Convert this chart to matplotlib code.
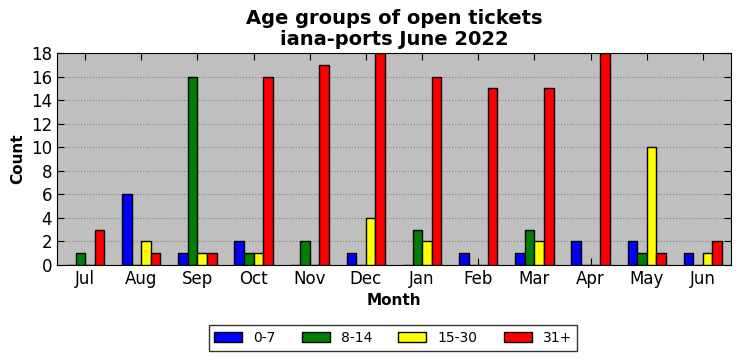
import matplotlib
matplotlib.use("Agg")
import matplotlib.pyplot as plt
import numpy as np

months = ['Jul', 'Aug', 'Sep', 'Oct', 'Nov', 'Dec', 'Jan', 'Feb', 'Mar', 'Apr', 'May', 'Jun']
age_labels = ['0-7', '8-14', '15-30', '31+']
age_colors = ['blue', 'green', 'yellow', 'red']
g0_7 = [0, 6, 1, 2, 0, 1, 0, 1, 1, 2, 2, 1]
g8_14 = [1, 0, 16, 1, 2, 0, 3, 0, 3, 0, 1, 0]
g15_30 = [0, 2, 1, 1, 0, 4, 2, 0, 2, 0, 10, 1]
g31 = [3, 1, 1, 16, 17, 18, 16, 15, 15, 18, 1, 2]

series = [g0_7, g8_14, g15_30, g31]

fig = plt.figure(figsize=(7.41, 3.61), dpi=100)
ax = fig.add_axes([57/741, 1-265/361, (731-57)/741, (265-53)/361])
ax.set_facecolor('#bfbfbf')

x = np.arange(len(months))
w = 0.17
for i in range(4):
  ax.bar(x + (i-1.5)*w, series[i], w, color=age_colors[i], edgecolor='black',
         linewidth=1, label=age_labels[i], zorder=3)

ax.set_xlim(-0.5, 11.5)
ax.set_ylim(0, 18)
ax.set_yticks(range(0, 19, 2))
ax.set_xticks(x)
ax.set_xticklabels(months)
ax.tick_params(direction='in', top=True, right=True, labelsize=12, length=5)
ax.yaxis.grid(True, linestyle=':', color='#808080', linewidth=0.8, zorder=0)
ax.set_axisbelow(True)
ax.set_xlabel('Month', fontsize=11, fontweight='bold')
ax.set_ylabel('Count', fontsize=11, fontweight='bold')
ax.set_title('Age groups of open tickets\niana-ports June 2022', fontsize=14,
             fontweight='bold', linespacing=1.1)
leg = fig.legend(loc='center', bbox_to_anchor=(393/741, 1-338/361), ncol=4,
                 fontsize=10, fancybox=False, edgecolor='black', handlelength=2.0,
                 columnspacing=1.9, borderpad=0.4)
leg.get_frame().set_linewidth(1)

plt.savefig('out.png', dpi=100)
